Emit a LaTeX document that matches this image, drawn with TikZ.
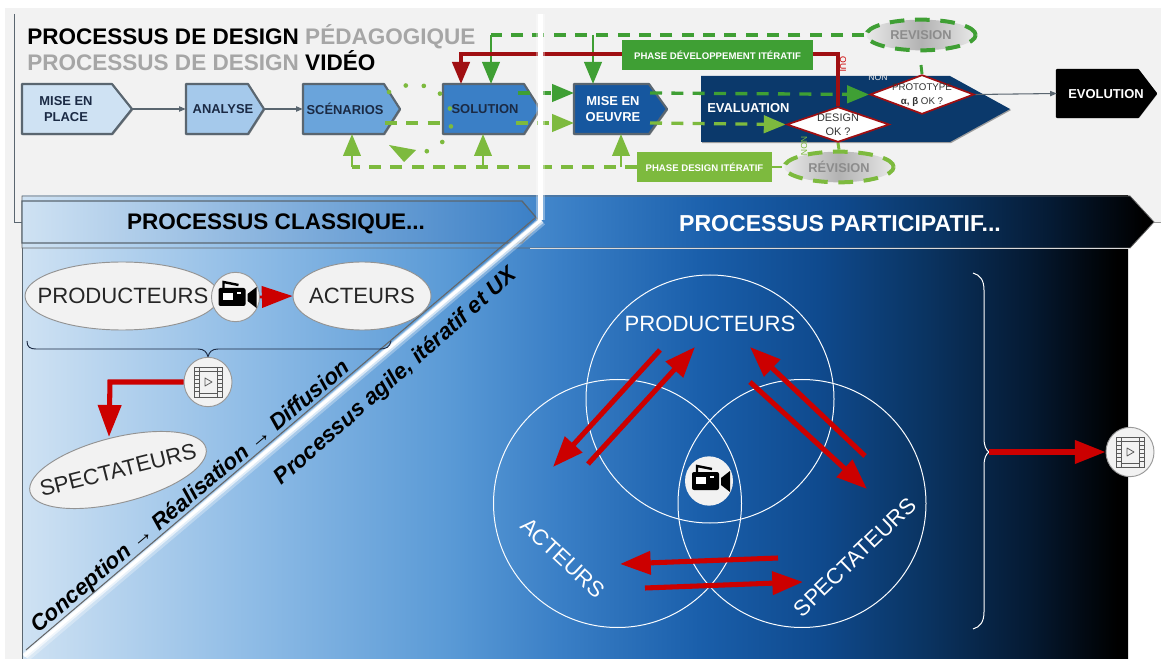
\documentclass[tikz,border=0pt]{standalone}
\usepackage{fontspec}
\setmainfont{Liberation Sans}
\usetikzlibrary{arrows.meta,shapes.geometric,shadows}
\pgfdeclarelayer{backs}
\pgfdeclarelayer{boxes}
\pgfdeclarelayer{lines}
\pgfsetlayers{backs,boxes,lines,main}
\definecolor{dkg}{HTML}{3F9F34}
\definecolor{ltg}{HTML}{7DBA3E}
\definecolor{redd}{HTML}{CC0000}
\definecolor{darkred}{HTML}{A00F12}
\definecolor{panelbg}{HTML}{F2F2F2}
\definecolor{edgec}{HTML}{5A6670}
\definecolor{navy}{HTML}{1B2A44}
\definecolor{greytxt}{HTML}{A6A6A6}
\definecolor{sa}{HTML}{CFE2F3}
\definecolor{sb}{HTML}{8FBCE6}
\definecolor{sc}{HTML}{5A9AD6}
\definecolor{sd}{HTML}{3A7FC6}
\definecolor{se}{HTML}{1A5FAB}
\definecolor{sf}{HTML}{0F4A8E}
\definecolor{sg}{HTML}{0A3360}
\definecolor{sh}{HTML}{051A33}
\colorlet{revmid}{gray!60}
\colorlet{revend}{panelbg!92!gray}
\pgfdeclarehorizontalshading{mainshade}{100bp}{color(0bp)=(sa); color(25bp)=(sa); color(35.3bp)=(sb); color(44.3bp)=(sc); color(49.3bp)=(sd); color(55.6bp)=(se); color(61bp)=(sf); color(66bp)=(sg); color(70.5bp)=(sh); color(74.5bp)=(black); color(100bp)=(black)}
\pgfdeclarehorizontalshading{revshade}{100bp}{color(0bp)=(revend); color(25bp)=(revend); color(50bp)=(revmid); color(75bp)=(revend); color(100bp)=(revend)}
\tikzset{
  x=0.75pt,y=-0.75pt,
  plate/.style={draw=edgec,line width=1.6pt,line join=round,drop shadow={shadow xshift=0.8pt,shadow yshift=-0.8pt,opacity=.35,fill=black}},
  boxtxt/.style={font=\bfseries\fontsize{9.7}{12.2}\selectfont,text=navy,align=center,inner sep=0pt},
  boxtxtw/.style={boxtxt,text=white},
  ghost/.style={inner sep=0pt},
  thin arrow/.style={draw=edgec,line width=0.8pt,-{Triangle[length=5pt,width=4pt]}},
  headgreen/.style={-{Triangle[length=16.5pt,width=13pt]}},
  dkdash/.style={draw=dkg,line width=2.5pt,dash pattern=on 9pt off 7pt},
  ltdash/.style={draw=ltg,line width=2.5pt,dash pattern=on 9pt off 7pt},
  dksolid/.style={draw=dkg,line width=2.2pt},
  ltsolid/.style={draw=ltg,line width=2.2pt},
  rednet/.style={draw=redd,line width=3.8pt,-{Triangle[length=23pt,width=17pt]}},
  grayell/.style={ellipse,draw=gray!85,line width=0.7pt,fill=panelbg,inner sep=0pt},
  ellabel/.style={inner sep=0pt,text=black!85,font=\fontsize{16.6}{19}\selectfont},
  whitering/.style={circle,draw=white!90!sa,line width=0.75pt,inner sep=0pt,minimum size=186pt},
  iconcirc/.style={ellipse,draw=gray!80,line width=0.7pt,fill=panelbg,inner sep=0pt,minimum width=36pt,minimum height=37pt},
  netlabel/.style={text=white,font=\fontsize{16.6}{19}\selectfont,inner sep=0pt},
  decision/.style={diamond,aspect=2.6,draw=darkred,line width=1.3pt,fill=white,inner sep=0pt},
  declabel/.style={inner sep=0pt,text=black!80,align=center,font=\fontsize{8.2}{10.8}\selectfont},
  phase/.style={inner sep=0pt,text=white,font=\bfseries\fontsize{7.2}{9}\selectfont},
  revision/.style={ellipse,inner sep=0pt,shading=revshade,line width=3pt,dash pattern=on 11pt off 8pt,minimum width=82pt,minimum height=23pt},
  revlabel/.style={inner sep=0pt,text=gray!90,font=\bfseries\fontsize{9.6}{12}\selectfont},
  bandtxt/.style={font=\bfseries\fontsize{16.9}{20}\selectfont,inner sep=0pt},
  diagtxt/.style={font=\bfseries\itshape\fontsize{16.8}{20}\selectfont,inner sep=0pt,text=black},
  camicon/.pic={
    \fill[black,rounded corners=1.5pt] (-17,-9) rectangle (10,9);
    \fill[white] (-13,-4) rectangle (-3,3);
    \fill[white] (1,-5) rectangle (5,-3);
    \draw[black,line width=1.8pt] (-12,-9) -- (-12,-15) -- (3,-12);
    \fill[black] (12,-3) -- (21,-10) -- (21,11) -- (12,4) -- cycle;
  },
  filmicon/.pic={
    \draw[black!65,line width=0.7pt] (-14,-15) rectangle (14,15);
    \draw[black!65,line width=0.7pt] (-9,-15) -- (-9,15) (9,-15) -- (9,15) (-9,-11) -- (9,-11) (-9,11) -- (9,11);
    \foreach \ya in {-11,-7,-3,1,5,9}{
      \draw[black!65,line width=0.6pt] (-14,\ya) -- (-9,\ya) (9,\ya) -- (14,\ya);
    }
    \draw[black!65,line width=0.6pt,line join=round] (-3,-4) -- (4,0) -- (-3,4) -- cycle;
  },
}
\newcommand{\homeplate}[7]{% name x1 y1 x2 y2 tipstart fillstyle
  \begin{pgfonlayer}{boxes}
  \path[plate,#7] (#2,#3) -- (#6,#3) -- (#4,{(#3+#5)/2}) -- (#6,#5) -- (#2,#5) -- cycle;
  \end{pgfonlayer}
  \node[ghost,minimum width={(#4-#2)*0.75pt},minimum height={(#5-#3)*0.75pt}] (#1) at ({(#2+#4)/2},{(#3+#5)/2}) {};
}
\begin{document}
\begin{tikzpicture}
\useasboundingbox (0,0) rectangle (1161,659);
% backgrounds
\begin{pgfonlayer}{backs}
\fill[white] (0,0) rectangle (1161,659);
\fill[panelbg] (5,8) rectangle (1161,222);
\fill[panelbg] (5,222) rectangle (22,659);
\draw[edgec,line width=0.7pt] (14,14) -- (14,222) -- (22,222);
\draw[gray!80,line width=0.7pt] (1140,222) -- (1161,222);
\end{pgfonlayer}
% titles
\node[anchor=base west,inner sep=0pt,font=\bfseries\fontsize{16.9}{20}\selectfont] (title1) at (27,45) {PROCESSUS DE DESIGN \textcolor{greytxt}{PÉDAGOGIQUE}};
\node[anchor=base west,inner sep=0pt,font=\bfseries\fontsize{16.9}{20}\selectfont] (title2) at (27,71) {\textcolor{greytxt}{PROCESSUS DE DESIGN} VIDÉO};
% process boxes
\homeplate{mep}{22}{84}{132}{134}{112}{fill=sa}
\homeplate{ana}{186}{84}{264}{134}{248}{fill=sa!35!sb}
\homeplate{sce}{303}{84}{400}{134}{384}{fill=sc!70!sb}
\homeplate{sol}{443}{84}{540}{134}{524}{fill=sd}
\homeplate{meo}{574}{84}{667}{134}{649}{fill=se!60!sf}
\homeplate{eva}{701}{76}{1010}{142}{950}{fill=sg!75!sf,draw=none}
\homeplate{evo}{1057}{70}{1156}{117}{1138}{fill=black,draw=black}
\node[boxtxt] (meptxt) at (66,109) {MISE EN\\PLACE};
\node[boxtxt] (anatxt) at (223,109) {ANALYSE};
\node[boxtxt] (scetxt) at (345,109) {SCÉNARIOS};
\node[boxtxt] (soltxt) at (485,109) {SOLUTION};
\node[boxtxtw] (meotxt) at (613,109) {MISE EN\\OEUVRE};
\node[boxtxtw,anchor=west] (evatxt) at (707,108) {EVALUATION};
\node[boxtxtw] (evotxt) at (1106,94) {EVOLUTION};
% named ends
\coordinate (topL) at (491,35);
\coordinate (topM) at (593,35);
\coordinate (solTopG) at (491,84);
\coordinate (solTopR) at (461,84);
\coordinate (meoTop) at (593,84);
\coordinate (redL) at (461,54);
\coordinate (redR) at (838,54);
\coordinate (solOutD) at (518,93);
\coordinate (meoInD) at (574,93);
\coordinate (meoOutD) at (650,93);
\coordinate (sceOutL) at (385,123);
\coordinate (solInL) at (443,123);
\coordinate (solOutL) at (516,123);
\coordinate (meoInL) at (574,123);
\coordinate (meoOutL) at (650,123);
\coordinate (botL) at (352,167);
\coordinate (botM) at (483,167);
\coordinate (botR) at (621,167);
\coordinate (sceBot) at (352,134);
\coordinate (solBot) at (483,134);
\coordinate (meoBot) at (621,134);
\coordinate (protoStub) at (921,65);
% decisions, phases and revisions
\node[decision,minimum width=77pt,minimum height=26.5pt] (design) at (838,124.5) {};
\node[declabel] (designtxt) at (838,125) {DESIGN\\OK ?};
\node[decision,minimum width=78pt,minimum height=29.5pt] (proto) at (922,94.5) {};
\node[declabel,font=\fontsize{7.3}{10}\selectfont] (prototxt) at (922,95) {PROTOTYPE\\\textbf{α, β} OK ?};
\node[revision,draw=dkg] (revt) at (921,35) {};
\node[revlabel] (revttxt) at (921,35) {REVISION};
\node[revision,draw=ltg] (revb) at (839,167) {};
\node[revlabel] (revbtxt) at (839,167) {RÉVISION};
\node[phase,fill=dkg,minimum width=143pt,minimum height=22.5pt] (phdev) at (717.5,55) {PHASE DÉVELOPPEMENT ITÉRATIF};
\node[phase,fill=ltg,minimum width=101pt,minimum height=22.5pt] (phdes) at (704.5,167) {PHASE DESIGN ITÉRATIF};
\node[inner sep=0pt,text=white!85!gray,font=\fontsize{6.5}{8}\selectfont] (nontop) at (878,78) {NON};
\node[inner sep=0pt,text=ltg,rotate=-90,font=\fontsize{6.5}{8}\selectfont] (nonbot) at (804,146) {NON};
\node[inner sep=0pt,text=redd,rotate=-90,font=\fontsize{6.5}{8}\selectfont] (oui) at (843,64) {OUI};
% connectors
\begin{pgfonlayer}{lines}
\draw[thin arrow] (mep.east) -- (ana.west);
\draw[thin arrow] (ana.east) -- (sce.west);
\draw[thin arrow] (proto.east) -- (evo.west);
\draw[dkdash] (revt.west) -- (topL);
\draw[dksolid,headgreen] (topL) -- (solTopG);
\draw[dksolid,headgreen] (topM) -- (meoTop);
\draw[dkdash,headgreen] (solOutD) -- (meoInD);
\draw[dkdash,headgreen] (meoOutD) -- (proto.west);
\draw[ltdash] (sceOutL) -- (solInL);
\draw[ltdash,headgreen] (solOutL) -- (meoInL);
\draw[ltdash,headgreen] (meoOutL) -- (design.west);
\draw[ltdash] (phdes.west) -- (botL);
\draw[ltsolid,headgreen] (botL) -- (sceBot);
\draw[ltsolid,headgreen] (botM) -- (solBot);
\draw[ltsolid,headgreen] (botR) -- (meoBot);
\draw[ltsolid] (phdes.east) -- (revb.west);
\draw[ltsolid] (design.south) -- (revb.north);
\draw[dksolid] (proto.north) -- (protoStub);
\draw[ltg,line width=3.5pt,line cap=round,dash pattern=on 0pt off 13.6pt] (389,92) .. controls (410,78) and (446,84) .. (451,113) .. controls (455,135) and (440,150) .. (416,154);
\fill[ltg] (389,145) -- (416,150) -- (404,162) -- cycle;
\draw[darkred,line width=2.6pt,-{Triangle[length=16.5pt,width=13pt]}] (design.north) -- (redR) -- (redL) -- (solTopR);
\end{pgfonlayer}
% main panel
\path[shading=mainshade] (22,196) rectangle (1128,659);
\draw[edgec,line width=0.6pt] (22,196) -- (22,659);
\path[shading=mainshade,draw=black!60,line width=0.6pt] (22,196) -- (1130,196) -- (1154,222) -- (1130,248) -- (22,248) -- cycle;
\draw[white!70!gray,line width=0.6pt] (530,248) -- (1130,248);
\path[left color=sa,right color=sd,draw=edgec,line width=1pt] (22,201) -- (522,201) -- (540,222) -- (522,243) -- (22,243) -- cycle;
\node[bandtxt] (classic) at (276,224) {PROCESSUS CLASSIQUE...};
\node[bandtxt,text=white,font=\bfseries\fontsize{17.3}{20}\selectfont] (partic) at (840,224) {PROCESSUS PARTICIPATIF...};
% white dividers
\fill[white,opacity=.35] (535.5,14) rectangle (544.5,220);
\fill[white] (537.5,14) rectangle (542.5,220);
\draw[black!60,line width=0.8pt] (535,218) -- (26,650);
\draw[white,line width=7pt,opacity=.3] (542,221) -- (26,657);
\draw[white,line width=4.5pt,opacity=.6] (541.5,220.5) -- (25,656);
\draw[white,line width=2.4pt] (541,220) -- (24,656);
% diagonal texts
\node[diagtxt,rotate=40.2] (ctxt) at (191,497) {Conception {\fontseries{m}\fontshape{n}\selectfont →} Réalisation {\fontseries{m}\fontshape{n}\selectfont →} Diffusion};
\node[diagtxt,rotate=41.5] (ptxt) at (396,377) {Processus agile, itératif et UX};
% classic actors
\node[grayell,minimum width=145.5pt,minimum height=51pt] (cprod) at (122,296) {};
\node[ellabel] (cprodtxt) at (123,296) {PRODUCTEURS};
\node[grayell,minimum width=103.5pt,minimum height=51pt] (cact) at (362,296) {};
\node[ellabel] (cacttxt) at (362,296) {ACTEURS};
\node[iconcirc] (ccam) at (235.5,297) {};
\pic at (ccam.center) {camicon};
\draw[redd,line width=2pt,-{Triangle[length=23pt,width=16pt]}] (ccam.east) -- (cact.west);
\draw[navy,line width=0.7pt] (27,341) .. controls (27,347) and (30,349) .. (36,349) -- (198,349) .. controls (204,349) and (207,352) .. (208,357) .. controls (209,352) and (212,349) .. (218,349) -- (380,349) .. controls (386,349) and (390,347) .. (391,341);
\node[iconcirc] (cfilm) at (208,382) {};
\pic at (cfilm.center) {filmicon};
\node[grayell,rotate=14,minimum width=136pt,minimum height=49pt] (cspec) at (118,470) {};
\node[ellabel,rotate=14] (cspectxt) at (118,470) {SPECTATEURS};
\coordinate (cbend) at (110,382);
\coordinate (cspecin) at (109,437);
\draw[redd,line width=3.8pt,-{Triangle[length=24pt,width=17pt]}] (cfilm.west) -- (cbend) -- (cspecin);
% participative circles
\node[whitering] (rprod) at (710,399) {};
\node[whitering] (ract) at (617.5,503.5) {};
\node[whitering] (rspec) at (802,503.5) {};
\node[netlabel] (pprod) at (710,324) {PRODUCTEURS};
\node[netlabel,rotate=-43] (pact) at (563,558) {ACTEURS};
\node[netlabel,rotate=44] (pspec) at (855,557) {SPECTATEURS};
\node[iconcirc,draw=none] (pcam) at (709,481) {};
\pic at (pcam.center) {camicon};
\coordinate (a1s) at (660,350); \coordinate (a1e) at (553,467);
\coordinate (a2s) at (588,464); \coordinate (a2e) at (695,347);
\coordinate (a3s) at (865,456); \coordinate (a3e) at (750,347);
\coordinate (a4s) at (750,382); \coordinate (a4e) at (867,489);
\coordinate (a5s) at (778,558); \coordinate (a5e) at (620,564);
\coordinate (a6s) at (645,588); \coordinate (a6e) at (803,582);
\draw[rednet] (a1s) -- (a1e);
\draw[rednet] (a2s) -- (a2e);
\draw[rednet] (a3s) -- (a3e);
\draw[rednet] (a4s) -- (a4e);
\draw[rednet] (a5s) -- (a5e);
\draw[rednet] (a6s) -- (a6e);
\draw[white,line width=0.75pt] (973,273) .. controls (980,275) and (984,280) .. (984,290) -- (984,438) .. controls (984,446) and (986,450) .. (989,452) .. controls (986,454) and (984,458) .. (984,466) -- (984,612) .. controls (984,622) and (980,627) .. (973,629);
\coordinate (bracetip) at (989,452);
\node[iconcirc] (pfilm) at (1130,452) {};
\pic at (pfilm.center) {filmicon};
\draw[rednet] (bracetip) -- (pfilm.west);
\end{tikzpicture}
\end{document}
